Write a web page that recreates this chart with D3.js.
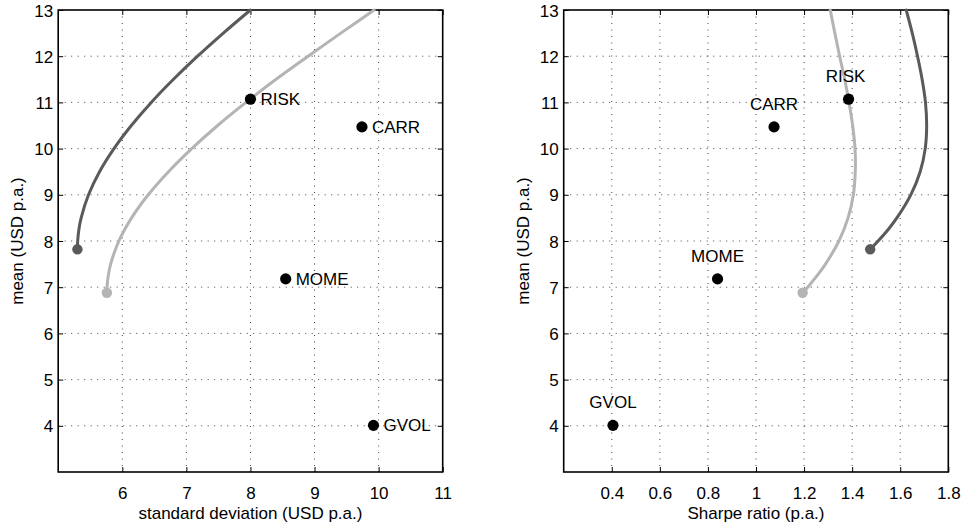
<!DOCTYPE html>
<html>
<head>
<meta charset="utf-8">
<script src="https://cdn.jsdelivr.net/npm/d3@7"></script>
<style>
  body { margin: 0; background: #fff; }
  svg { display: block; font-family: "Liberation Sans", Arial, sans-serif; }
</style>
</head>
<body>
<div id="main"></div>
<script>
// single assets
var assets = ["RISK", "CARR", "MOME", "GVOL"];
var assetMean = [11.07, 10.47, 7.18, 4.01];
var assetStd = [8.0, 9.74, 8.55, 9.92];
var assetSharpe = [1.385, 1.075, 0.84, 0.405];

// frontier, dark curve
var darkMean = [7.82, 8.0, 8.25, 8.5, 9.0, 9.5, 10.0, 10.5, 11.0, 11.5, 12.0, 12.5, 13.0];
var darkStd = [5.30, 5.304, 5.323, 5.358, 5.473, 5.645, 5.870, 6.141, 6.452, 6.799, 7.175, 7.577, 8.0];
var darkSharpe = [1.475, 1.508, 1.550, 1.586, 1.644, 1.683, 1.704, 1.710, 1.705, 1.691, 1.672, 1.650, 1.625];

// frontier, light curve
var lightMean = [6.88, 7.0, 7.25, 7.5, 8.0, 8.5, 9.0, 9.5, 10.0, 10.5, 11.0, 11.5, 12.0, 12.5, 13.0];
var lightStd = [5.76, 5.762, 5.781, 5.818, 5.947, 6.145, 6.405, 6.721, 7.084, 7.488, 7.93, 8.40, 8.90, 9.41, 9.93];
var lightSharpe = [1.194, 1.215, 1.254, 1.289, 1.345, 1.383, 1.405, 1.413, 1.412, 1.402, 1.387, 1.369, 1.348, 1.328, 1.309];

var meanTicks = [4, 5, 6, 7, 8, 9, 10, 11, 12, 13];
var stdTicks = [6, 7, 8, 9, 10, 11];
var sharpeTicks = [0.4, 0.6, 0.8, 1.0, 1.2, 1.4, 1.6, 1.8];

var W = 963, H = 528;
var top0 = 10, bottom0 = 472;
var darkCol = "#5a5a5a", lightCol = "#b4b4b4";

var svg = d3.select("#main").append("svg")
    .attr("width", W).attr("height", H);

function panel(opt) {
  var x = d3.scaleLinear().domain(opt.xDomain).range([opt.left, opt.right]);
  var y = d3.scaleLinear().domain([3, 13]).range([bottom0, top0]);
  var g = svg.append("g");

  // dotted grid
  g.append("g").selectAll("line").data(opt.xTicks.filter(function(d){ return d < opt.xDomain[1]; }))
    .enter().append("line")
      .attr("x1", function(d){ return x(d); }).attr("x2", function(d){ return x(d); })
      .attr("y1", top0).attr("y2", bottom0)
      .attr("stroke", "#444").attr("stroke-width", 1).attr("stroke-dasharray", "1,5.5");
  g.append("g").selectAll("line").data(meanTicks.filter(function(d){ return d < 13; }))
    .enter().append("line")
      .attr("x1", opt.left).attr("x2", opt.right)
      .attr("y1", function(d){ return y(d); }).attr("y2", function(d){ return y(d); })
      .attr("stroke", "#444").attr("stroke-width", 1).attr("stroke-dasharray", "1,5.5");

  // axes: inward ticks on all four sides
  var fmt = d3.format("~g");
  var xb = g.append("g").attr("transform", "translate(0," + bottom0 + ")")
    .call(d3.axisBottom(x).tickValues(opt.xTicks).tickSize(-5).tickSizeOuter(0).tickPadding(15).tickFormat(fmt));
  var xt = g.append("g").attr("transform", "translate(0," + top0 + ")")
    .call(d3.axisTop(x).tickValues(opt.xTicks).tickSize(-5).tickSizeOuter(0).tickFormat(""));
  var yl = g.append("g").attr("transform", "translate(" + opt.left + ",0)")
    .call(d3.axisLeft(y).tickValues(meanTicks.filter(function(d){ return d > 3; })).tickSize(-5).tickSizeOuter(0).tickPadding(5).tickFormat(fmt));
  var yr = g.append("g").attr("transform", "translate(" + opt.right + ",0)")
    .call(d3.axisRight(y).tickValues(meanTicks).tickSize(-5).tickSizeOuter(0).tickFormat(""));
  [xb, xt, yl, yr].forEach(function(a) {
    a.select(".domain").remove();
    a.selectAll("line").attr("stroke", "#000").attr("stroke-width", 1);
    a.selectAll("text").attr("fill", "#000").style("font-size", "17px")
      .style("font-family", "'Liberation Sans', Arial, sans-serif");
  });
  yl.selectAll("text").attr("dy", "0.36em");

  // frame
  g.append("rect")
    .attr("x", opt.left).attr("y", top0)
    .attr("width", opt.right - opt.left).attr("height", bottom0 - top0)
    .attr("fill", "none").attr("stroke", "#000").attr("stroke-width", 1.6);

  // axis titles
  g.append("text")
    .attr("x", (opt.left + opt.right) / 2).attr("y", 519)
    .attr("text-anchor", "middle").style("font-size", "17px")
    .text(opt.xLabel);
  g.append("text")
    .attr("transform", "translate(" + (opt.left - 35) + "," + ((top0 + bottom0) / 2) + ") rotate(-90)")
    .attr("text-anchor", "middle").style("font-size", "17px")
    .text("mean (USD p.a.)");

  // frontier curves
  var line = d3.line()
    .x(function(d){ return x(d[0]); })
    .y(function(d){ return y(d[1]); })
    .curve(d3.curveCatmullRom.alpha(0.5));
  opt.curves.forEach(function(c) {
    var pts = c.xs.map(function(v, i){ return [v, c.ys[i]]; });
    g.append("path").datum(pts)
      .attr("d", line)
      .attr("fill", "none").attr("stroke", c.color)
      .attr("stroke-width", 3).attr("stroke-linecap", "round");
    g.append("circle")
      .attr("cx", x(pts[0][0])).attr("cy", y(pts[0][1])).attr("r", 5.2)
      .attr("fill", c.color);
  });

  // asset points
  assets.forEach(function(name, i) {
    var px = x(opt.assetX[i]), py = y(assetMean[i]);
    g.append("circle").attr("cx", px).attr("cy", py).attr("r", 5.6).attr("fill", "#000");
    var t = g.append("text").style("font-size", "17px").text(name);
    if (opt.labelAbove) {
      t.attr("x", px - (name === "RISK" ? 3 : 0)).attr("y", py - 17).attr("text-anchor", "middle");
    } else {
      t.attr("x", px + 10).attr("y", py).attr("dy", "0.36em");
    }
  });
}

panel({
  left: 58.2, right: 442.7,
  xDomain: [5, 11], xTicks: stdTicks,
  xLabel: "standard deviation (USD p.a.)",
  assetX: assetStd, labelAbove: false,
  curves: [
    { xs: lightStd, ys: lightMean, color: lightCol },
    { xs: darkStd, ys: darkMean, color: darkCol }
  ]
});

panel({
  left: 563.7, right: 948.3,
  xDomain: [0.2, 1.8], xTicks: sharpeTicks,
  xLabel: "Sharpe ratio (p.a.)",
  assetX: assetSharpe, labelAbove: true,
  curves: [
    { xs: lightSharpe, ys: lightMean, color: lightCol },
    { xs: darkSharpe, ys: darkMean, color: darkCol }
  ]
});
</script>
</body>
</html>
